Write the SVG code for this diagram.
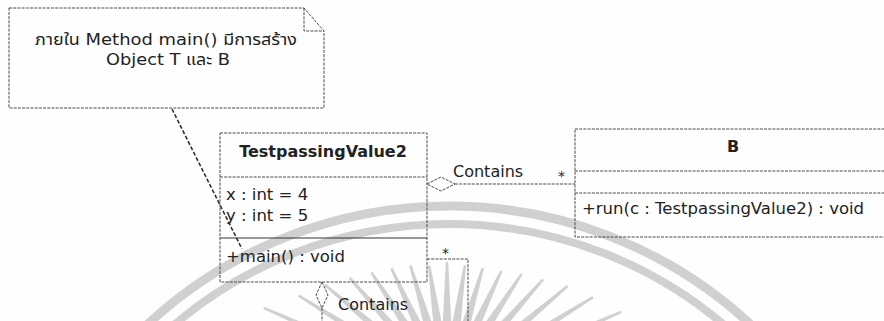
<svg xmlns="http://www.w3.org/2000/svg" width="884" height="321" viewBox="0 0 884 321">
  <style>
    .bg { fill: #fefefe; }
    .wm { fill: none; stroke: #d0d0d0; }
    .ray { fill: #d0d0d0; }
    .box { fill: none; stroke: #4a4a4a; stroke-width: 1; stroke-dasharray: 3 1.2; }
    .sep { stroke: #333; stroke-width: 1.2; }
    .edge { fill: none; stroke: #4a4a4a; stroke-width: 1; stroke-dasharray: 3 1.2; }
    .anchor { fill: none; stroke: #333; stroke-width: 1.6; stroke-dasharray: 4 2; }
    text { font-family: "DejaVu Sans", "Noto Sans Thai", "Loma", "Garuda", sans-serif; fill: #222; }
    .t { font-size: 16.5px; }
    .h { font-size: 16px; font-weight: bold; }
    .lbl { font-size: 16px; }
    .star { font-size: 14px; }
    .note { font-size: 16.5px; }
  </style>

  <rect class="bg" x="0" y="0" width="884" height="321"/>

  <!-- background emblem: two arcs and a fan of rays -->
  <g id="emblem">
    <circle class="wm" cx="449" cy="649" r="443" stroke-width="9"/>
    <circle class="wm" cx="449" cy="649" r="425" stroke-width="8"/>
    <g transform="translate(447 388)">
      <polygon class="ray" points="-1.2,-200 1.2,-200 4.5,-60 -4.5,-60" transform="rotate(-66.4)"/>
      <polygon class="ray" points="-1.2,-175 1.2,-175 4.5,-60 -4.5,-60" transform="rotate(-58.1)"/>
      <polygon class="ray" points="-1.2,-160 1.2,-160 4.5,-60 -4.5,-60" transform="rotate(-49.8)"/>
      <polygon class="ray" points="-1.2,-147 1.2,-147 4.5,-60 -4.5,-60" transform="rotate(-41.5)"/>
      <polygon class="ray" points="-1.2,-138 1.2,-138 4.5,-60 -4.5,-60" transform="rotate(-33.2)"/>
      <polygon class="ray" points="-1.2,-132 1.2,-132 4.5,-60 -4.5,-60" transform="rotate(-24.9)"/>
      <polygon class="ray" points="-1.2,-128 1.2,-128 4.5,-60 -4.5,-60" transform="rotate(-16.6)"/>
      <polygon class="ray" points="-1.2,-124 1.2,-124 4.5,-60 -4.5,-60" transform="rotate(-8.3)"/>
      <polygon class="ray" points="-1.2,-126 1.2,-126 4.5,-60 -4.5,-60"/>
      <polygon class="ray" points="-1.2,-124 1.2,-124 4.5,-60 -4.5,-60" transform="rotate(8.3)"/>
      <polygon class="ray" points="-1.2,-125 1.2,-125 4.5,-60 -4.5,-60" transform="rotate(16.6)"/>
      <polygon class="ray" points="-1.2,-129 1.2,-129 4.5,-60 -4.5,-60" transform="rotate(24.9)"/>
      <polygon class="ray" points="-1.2,-136 1.2,-136 4.5,-60 -4.5,-60" transform="rotate(33.2)"/>
      <polygon class="ray" points="-1.2,-145 1.2,-145 4.5,-60 -4.5,-60" transform="rotate(41.5)"/>
      <polygon class="ray" points="-1.2,-158 1.2,-158 4.5,-60 -4.5,-60" transform="rotate(49.8)"/>
      <polygon class="ray" points="-1.2,-172 1.2,-172 4.5,-60 -4.5,-60" transform="rotate(58.1)"/>
      <polygon class="ray" points="-1.2,-190 1.2,-190 4.5,-60 -4.5,-60" transform="rotate(66.4)"/>
    </g>
  </g>

  <!-- connectors -->
  <g id="connectors">
    <!-- note anchor -->
    <line class="anchor" x1="172" y1="109" x2="242" y2="249"/>
    <!-- TestpassingValue2 <>- B -->
    <polygon class="edge" points="427,184 441,177 455,184 441,191"/>
    <line class="edge" x1="455" y1="184" x2="575" y2="184"/>
    <text class="lbl" x="453" y="177">Contains</text>
    <text class="star" x="558" y="181">*</text>
    <!-- TestpassingValue2 self association -->
    <path class="edge" d="M427,259 H468 V321"/>
    <text class="star" x="442" y="258">*</text>
    <polygon class="edge" points="322,282 328,295 322,308 316,295"/>
    <line class="edge" x1="322" y1="308" x2="322" y2="321"/>
    <text class="lbl" x="338" y="310">Contains</text>
  </g>

  <!-- note -->
  <g id="note">
    <path class="box" d="M9,8 H304 L324,31 V108 H9 Z"/>
    <path class="box" d="M304,8 V31 H324"/>
    <text class="note" x="35" y="45" textLength="262" lengthAdjust="spacingAndGlyphs">ภายใน Method main() มีการสร้าง</text>
    <text class="note" x="106" y="65" textLength="124" lengthAdjust="spacingAndGlyphs">Object T และ B</text>
  </g>

  <!-- class TestpassingValue2 -->
  <g id="TestpassingValue2">
    <rect class="box" x="220" y="133" width="207" height="149"/>
    <line class="box" x1="220" y1="177" x2="427" y2="177"/>
    <line class="sep" x1="220" y1="238" x2="427" y2="238"/>
    <text class="h" x="323" y="157" text-anchor="middle">TestpassingValue2</text>
    <text class="t" x="226" y="200">x : int = 4</text>
    <text class="t" x="226" y="221">y : int = 5</text>
    <text class="t" x="226" y="262">+main() : void</text>
  </g>

  <!-- class B -->
  <g id="B">
    <rect class="box" x="575" y="129" width="316" height="108"/>
    <line class="box" x1="575" y1="171" x2="891" y2="171"/>
    <line class="box" x1="575" y1="193" x2="891" y2="193"/>
    <text class="h" x="733" y="152" text-anchor="middle">B</text>
    <text class="t" x="582" y="214">+run(c : TestpassingValue2) : void</text>
  </g>
</svg>
